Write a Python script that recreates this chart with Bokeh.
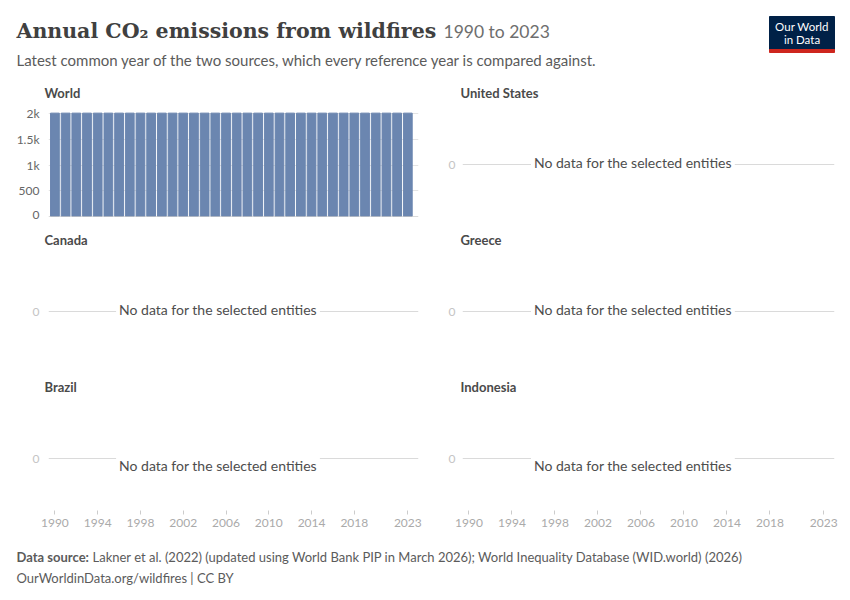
from bokeh.plotting import figure
from bokeh.layouts import column, row
from bokeh.models import Range1d, FixedTicker, Span
from bokeh.core.properties import value
from bokeh.embed import file_html
from bokeh.resources import INLINE

# ---------------- data ----------------
years = [1990, 1991, 1992, 1993, 1994, 1995, 1996, 1997, 1998, 1999,
         2000, 2001, 2002, 2003, 2004, 2005, 2006, 2007, 2008, 2009,
         2010, 2011, 2012, 2013, 2014, 2015, 2016, 2017, 2018, 2019,
         2020, 2021, 2022, 2023]
world_values = [2010, 2010, 2010, 2010, 2010, 2010, 2010, 2010, 2010, 2010,
                2010, 2010, 2010, 2010, 2010, 2010, 2010, 2010, 2010, 2010,
                2010, 2010, 2010, 2010, 2010, 2010, 2010, 2010, 2010, 2010,
                2010, 2010, 2010, 2010]
entities = ["World", "United States", "Canada", "Greece", "Brazil", "Indonesia"]
entity_data = {"World": world_values}
x_ticks = [1990, 1994, 1998, 2002, 2006, 2010, 2014, 2018, 2023]
y_ticks_world = [0, 500, 1000, 1500, 2000]
y_tick_labels_world = ["0", "500", "1k", "1.5k", "2k"]
no_data_text = "No data for the selected entities"

title_text = "Annual CO\u2082 emissions from wildfires"
title_range = "1990 to 2023"
subtitle_text = "Latest common year of the two sources, which every reference year is compared against."
source_label = "Data source:"
source_text = "Lakner et al. (2022) (updated using World Bank PIP in March 2026); World Inequality Database (WID.world) (2026)"
url_text = "OurWorldinData.org/wildfires | CC BY"

BAR = "#6b86b0"
FONT = value("Lato")


def blank_fig(w, h):
    p = figure(width=w, height=h, x_range=Range1d(0, w), y_range=Range1d(h, 0),
               min_border=0, toolbar_location=None, output_backend="svg")
    p.axis.visible = False
    p.grid.visible = False
    p.outline_line_color = None
    return p


# ---------------- header ----------------
header = blank_fig(834, 66)
header.text(x=[8], y=[22], text=[title_text], text_font=value("DejaVu Serif"),
            text_font_style="bold",
            text_font_size=value("20.5px"), text_color="#404040", text_baseline="middle")
header.text(x=[435], y=[23], text=[title_range], text_font=FONT,
            text_font_size=value("17.5px"), text_color="#6e6e6e", text_baseline="middle")
header.text(x=[8], y=[51], text=[subtitle_text], text_font=FONT,
            text_font_size=value("15px"), text_color="#5b5b5b", text_baseline="middle")
header.quad(left=[761], right=[826], top=[8], bottom=[41], color="#002147")
header.quad(left=[761], right=[826], top=[41], bottom=[44], color="#ce261e")
header.text(x=[793.5, 793.5], y=[18, 31], text=["Our World", "in Data"], text_font=FONT,
            text_font_size=value("11.5px"), text_color="white", text_align="center",
            text_baseline="middle")


# ---------------- panels ----------------
def panel(name, left, bottom_row):
    has_data = name in entity_data
    w = 432 if left else 402
    h = 172 if bottom_row else 147
    if has_data:
        yr = Range1d(0, 2100)
    else:
        yr = Range1d(-1, 1.077)
    p = figure(width=w, height=h, x_range=Range1d(1989.4, 2024.0), y_range=yr,
               min_border_left=40 if left else 22, min_border_right=22 if left else 8,
               min_border_top=34, min_border_bottom=30 if bottom_row else 5,
               toolbar_location=None, output_backend="svg", title=name,
               x_axis_location="below" if bottom_row else None)
    p.outline_line_color = None
    p.title.text_font = "Lato"
    p.title.text_font_size = "13px"
    p.title.text_font_style = "bold"
    p.title.text_color = "#4a4a4a"
    p.title.align = "left"
    p.title.offset = -4 if left else -2
    p.title.standoff = 16

    p.xgrid.visible = False
    ya = p.yaxis[0]
    ya.axis_line_color = None
    ya.major_tick_line_color = None
    ya.minor_tick_line_color = None
    ya.major_tick_out = 0
    ya.major_tick_in = 0
    ya.major_label_text_font = "Lato"
    ya.major_label_text_font_size = "12px"

    if has_data:
        ya.ticker = FixedTicker(ticks=y_ticks_world)
        ya.major_label_overrides = dict(zip(y_ticks_world, y_tick_labels_world))
        ya.major_label_text_color = "#666666"
        ya.major_label_standoff = 9
        p.ygrid.ticker = FixedTicker(ticks=y_ticks_world)
        p.ygrid.grid_line_color = "#e4e4e4"
        p.vbar(x=years, top=entity_data[name], width=0.82, color=BAR)
        p.add_layout(Span(location=0, dimension="width", line_color="#b8b8b8", line_width=1))
    else:
        ya.ticker = FixedTicker(ticks=[0])
        ya.major_label_text_color = "#c4c4c4"
        ya.major_label_standoff = 9 if left else 7
        p.ygrid.ticker = FixedTicker(ticks=[0])
        p.ygrid.grid_line_color = "#dadada"
        ty = -0.135 if bottom_row else 0.04
        p.text(x=[2005.25], y=[ty], text=[no_data_text], text_font=FONT,
               text_font_size=value("14px"), text_color="#4d4d4d",
               text_align="center", text_baseline="middle",
               background_fill_color="white", padding=3)

    if bottom_row:
        xa = p.xaxis[0]
        xa.ticker = FixedTicker(ticks=x_ticks)
        xa.axis_line_color = None
        xa.major_tick_out = 4
        xa.major_tick_in = 0
        xa.major_tick_line_color = "#cccccc"
        xa.minor_tick_line_color = None
        xa.major_label_standoff = 4
        xa.major_label_text_font = "Lato"
        xa.major_label_text_font_size = "12px"
        xa.major_label_text_color = "#aaaaaa"
    return p


rows = []
for i in range(3):
    l = panel(entities[2 * i], True, i == 2)
    r = panel(entities[2 * i + 1], False, i == 2)
    rows.append(row(l, r))

# ---------------- footer ----------------
footer = blank_fig(834, 52)
footer.text(x=[8], y=[16], text=[source_label], text_font=FONT, text_font_style="bold",
            text_font_size=value("13px"), text_color="#5b5b5b", text_baseline="middle")
footer.text(x=[84], y=[16], text=[source_text], text_font=FONT,
            text_font_size=value("13px"), text_color="#5b5b5b", text_baseline="middle")
footer.text(x=[8], y=[37], text=[url_text], text_font=FONT,
            text_font_size=value("13px"), text_color="#5b5b5b", text_baseline="middle")

layout = column(header, *rows, footer, margin=(8, 8, 8, 8))
open("out.html", "w").write(file_html(layout, INLINE))
